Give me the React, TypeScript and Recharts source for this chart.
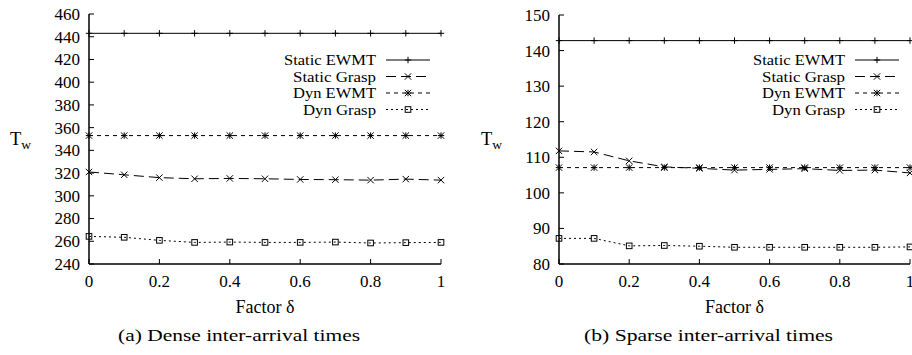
import React from 'react';
import { Legend, Line, LineChart, XAxis, YAxis } from 'recharts';

const factors = [0, 0.1, 0.2, 0.3, 0.4, 0.5, 0.6, 0.7, 0.8, 0.9, 1];
const xLabelTicks = [0, 0.2, 0.4, 0.6, 0.8, 1];

// (a) dense inter-arrival times
const denseStaticEwmt = [443, 443, 443, 443, 443, 443, 443, 443, 443, 443, 443];
const denseStaticGrasp = [321, 318.5, 316, 315, 315.3, 315, 314.4, 314.2, 313.8, 314.7, 313.8];
const denseDynEwmt = [353, 353, 353, 353, 353, 353, 353, 353, 353, 353, 353];
const denseDynGrasp = [264.3, 263.5, 260.8, 259, 259.3, 259, 259, 259.3, 258.5, 258.8, 259];
const denseYTicks = [240, 260, 280, 300, 320, 340, 360, 380, 400, 420, 440, 460];

// (b) sparse inter-arrival times
const sparseStaticEwmt = [142.8, 142.8, 142.8, 142.8, 142.8, 142.8, 142.8, 142.8, 142.8, 142.8, 142.8];
const sparseStaticGrasp = [111.8, 111.5, 109, 107.3, 106.9, 106.4, 106.6, 106.8, 106.3, 106.4, 105.6];
const sparseDynEwmt = [107.1, 107.1, 107.1, 107.1, 107.1, 107.1, 107.1, 107.1, 107.1, 107.1, 107.1];
const sparseDynGrasp = [87.2, 87.2, 85.1, 85.2, 85, 84.7, 84.7, 84.7, 84.7, 84.7, 84.8];
const sparseYTicks = [80, 90, 100, 110, 120, 130, 140, 150];

const seriesNames = ['Static EWMT', 'Static Grasp', 'Dyn EWMT', 'Dyn Grasp'];

const FONT = "'Liberation Serif', 'Times New Roman', serif";
// set as css so nothing inherited can win over it
const txt = (size: number) => ({ fontFamily: FONT, fontSize: size, fill: '#000' });

// the scanned figure is a little wider than Times, stretch to its measured widths
const legendTextWidth: Record<string, number> = {
  staticEwmt: 92,
  staticGrasp: 83,
  dynEwmt: 83,
  dynGrasp: 73,
};

const series = [
  { key: 'staticEwmt', name: seriesNames[0], dash: undefined, marker: 'plus' },
  { key: 'staticGrasp', name: seriesNames[1], dash: '10 5', marker: 'cross' },
  { key: 'dynEwmt', name: seriesNames[2], dash: '4 4', marker: 'star' },
  { key: 'dynGrasp', name: seriesNames[3], dash: '2 3', marker: 'square' },
];

const buildRows = (a: number[], b: number[], c: number[], d: number[]) =>
  factors.map((x, i) => ({ x, staticEwmt: a[i], staticGrasp: b[i], dynEwmt: c[i], dynGrasp: d[i] }));

const denseData = buildRows(denseStaticEwmt, denseStaticGrasp, denseDynEwmt, denseDynGrasp);
const sparseData = buildRows(sparseStaticEwmt, sparseStaticGrasp, sparseDynEwmt, sparseDynGrasp);

const Marker = ({ kind, cx, cy, r = 3.2 }: { kind: string; cx: number; cy: number; r?: number }) => {
  const plus = `M${cx - r},${cy}H${cx + r}M${cx},${cy - r}V${cy + r}`;
  const cross = `M${cx - r},${cy - r}L${cx + r},${cy + r}M${cx - r},${cy + r}L${cx + r},${cy - r}`;
  if (kind === 'square') {
    return <rect x={cx - 2.8} y={cy - 2.8} width={5.6} height={5.6} fill="none" stroke="#000" strokeWidth={1} />;
  }
  const d = kind === 'plus' ? plus : kind === 'cross' ? cross : plus + cross;
  return <path d={d} fill="none" stroke="#000" strokeWidth={1} />;
};

const makeDot = (kind: string) => (props: any) =>
  <Marker key={`${kind}-${props.index}`} kind={kind} cx={props.cx} cy={props.cy} />;

const renderLegend = () => (
  <svg width={170} height={70} style={{ overflow: 'visible' }}>
    {series.map((s, i) => {
      const y = 10 + i * 16.5;
      const w = legendTextWidth[s.key];
      return (
        <g key={s.key}>
          <text
            x={106 - w}
            y={y}
            dy="0.35em"
            style={txt(15)}
            textLength={w}
            lengthAdjust="spacingAndGlyphs"
          >
            {s.name}
          </text>
          <line x1={116} x2={160} y1={y} y2={y} stroke="#000" strokeWidth={1} strokeDasharray={s.dash} />
          <Marker kind={s.marker} cx={138} cy={y} />
        </g>
      );
    })}
  </svg>
);

const XTick = ({ x, y, payload }: any) => (
  <text x={x} y={y} dy="0.71em" textAnchor="middle" style={txt(17)}>
    {String(payload.value)}
  </text>
);

const YTick = ({ x, y, payload }: any) => (
  <text x={x} y={y} dy="0.35em" textAnchor="end" style={txt(17)}>
    {String(payload.value)}
  </text>
);

const TwLabel = ({ x }: { x: number }) => (
  <text x={x} y={145} style={txt(18.5)}>
    <tspan>T</tspan>
    <tspan style={{ fontSize: 13.5 }} dy={3.5}>w</tspan>
  </text>
);

interface PanelProps {
  data: any[];
  yTicks: number[];
  width: number;
  yAxisWidth: number;
  top: number;
  right: number;
  legendLeft: number;
  twX: number;
}

const Panel = ({ data, yTicks, width, yAxisWidth, top, right, legendLeft, twX }: PanelProps) => (
  <LineChart width={width} height={355} data={data} margin={{ top, right, bottom: 0, left: 0 }}>
    <XAxis
      dataKey="x"
      type="number"
      domain={[0, 1]}
      ticks={xLabelTicks}
      interval={0}
      height={355 - 264}
      tickSize={-5}
      tickMargin={16}
      tick={<XTick />}
      axisLine={{ stroke: '#000', strokeWidth: 1.5 }}
      tickLine={{ stroke: '#000' }}
      label={(p: any) => (
        <text x={p.viewBox.x + p.viewBox.width / 2} y={313} textAnchor="middle" style={txt(18)}>
          Factor δ
        </text>
      )}
    />
    <XAxis
      xAxisId="top"
      orientation="top"
      type="number"
      domain={[0, 1]}
      ticks={factors}
      interval={0}
      height={0}
      tick={false}
      tickSize={-5}
      axisLine={{ stroke: '#000', strokeWidth: 1.5 }}
      tickLine={{ stroke: '#000' }}
    />
    <YAxis
      type="number"
      domain={[yTicks[0], yTicks[yTicks.length - 1]]}
      ticks={yTicks}
      interval={0}
      width={yAxisWidth}
      tickSize={-5}
      tickMargin={14}
      tick={<YTick />}
      axisLine={{ stroke: '#000', strokeWidth: 1.5 }}
      tickLine={{ stroke: '#000' }}
      label={() => <TwLabel x={twX} />}
    />
    <YAxis
      yAxisId="right"
      orientation="right"
      type="number"
      domain={[yTicks[0], yTicks[yTicks.length - 1]]}
      ticks={yTicks}
      interval={0}
      width={0}
      tick={false}
      tickSize={-5}
      axisLine={{ stroke: '#000', strokeWidth: 1.5 }}
      tickLine={{ stroke: '#000' }}
    />
    <Legend
      layout="horizontal"
      verticalAlign="middle"
      align="center"
      content={renderLegend}
      wrapperStyle={{ position: 'absolute', left: legendLeft, top: 50, width: 170, height: 70 }}
    />
    {series.map((s) => (
      <Line
        key={s.key}
        dataKey={s.key}
        name={s.name}
        type="linear"
        stroke="#000"
        strokeWidth={1}
        strokeDasharray={s.dash}
        dot={makeDot(s.marker)}
        activeDot={false}
        isAnimationActive={false}
      />
    ))}
  </LineChart>
);

export default function App() {
  return (
    <div
      style={{
        position: 'absolute',
        left: 0,
        top: 0,
        width: 912,
        height: 355,
        overflow: 'hidden',
        background: '#fff',
        fontFamily: FONT,
      }}
    >
      <div style={{ position: 'absolute', left: 0, top: 0 }}>
        <Panel data={denseData} yTicks={denseYTicks} width={456} yAxisWidth={89} top={14} right={15} legendLeft={270} twX={10} />
      </div>
      <div style={{ position: 'absolute', left: 456, top: 0 }}>
        <Panel data={sparseData} yTicks={sparseYTicks} width={470} yAxisWidth={103} top={15} right={16} legendLeft={283} twX={25} />
      </div>
      <svg width={912} height={355} style={{ position: 'absolute', left: 0, top: 0, pointerEvents: 'none' }}>
        <text x={118} y={341} style={txt(17)} textLength={242} lengthAdjust="spacingAndGlyphs">
          (a)  Dense inter-arrival times
        </text>
        <text x={584} y={341} style={txt(17)} textLength={249} lengthAdjust="spacingAndGlyphs">
          (b)  Sparse inter-arrival times
        </text>
      </svg>
    </div>
  );
}
